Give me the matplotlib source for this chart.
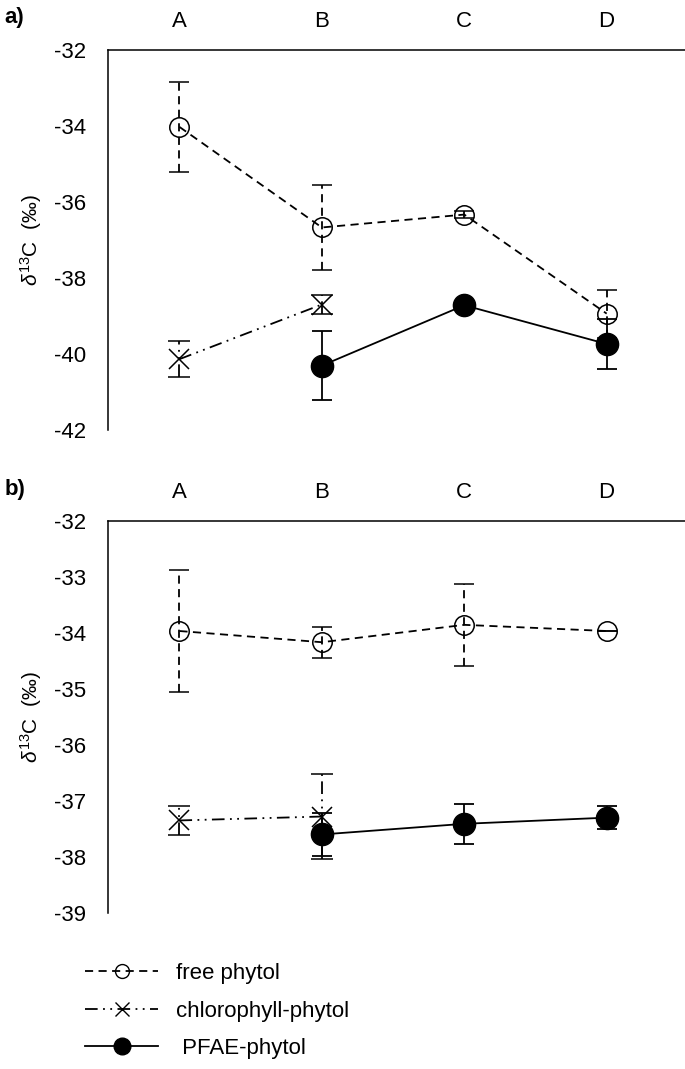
import numpy as np
import matplotlib
matplotlib.use('Agg')
import matplotlib.pyplot as plt
from matplotlib.lines import Line2D

plt.rcParams['font.family'] = ['Liberation Sans', 'DejaVu Sans']
plt.rcParams['mathtext.fontset'] = 'custom'
plt.rcParams['mathtext.rm'] = 'Liberation Sans'
plt.rcParams['mathtext.it'] = 'Liberation Sans:italic'
plt.rcParams['axes.unicode_minus'] = False

sites = ['A', 'B', 'C', 'D']
nan = np.nan

# panel a
free_a = [-34.02, -36.67, -36.33, -38.94]
free_a_err = [1.19, 1.12, 0.1, 0.63]
chl_a = [-40.14, -38.70, nan, nan]
chl_a_err = [0.48, 0.24, nan, nan]
pfae_a = [nan, -40.31, -38.72, -39.74]
pfae_a_err = [nan, 0.9, 0.1, 0.66]

# panel b
free_b = [-33.97, -34.17, -33.86, -33.97]
free_b_err = [1.08, 0.28, 0.73, 0.0]
chl_b = [-37.35, -37.28, nan, nan]
chl_b_err = [0.26, 0.75, nan, nan]
pfae_b = [nan, -37.60, -37.41, -37.30]
pfae_b_err = [nan, 0.38, 0.36, 0.2]

free_ls = (0, (4.5, 3))
chl_ls = (0, (7, 3, 1, 3, 1, 3))
lw = 1.3
fs = 16

fig = plt.figure(figsize=(6.85, 10.69), dpi=100)
ax_a = fig.add_axes([0.158, 0.598, 0.842, 0.355])
ax_b = fig.add_axes([0.158, 0.146, 0.842, 0.367])

x = np.arange(len(sites))


def draw(ax, free, free_err, chl, chl_err, pfae, pfae_err):
    e = ax.errorbar(x, free, yerr=free_err, color='black', lw=lw, ls=free_ls,
                    marker='o', ms=14, mfc='none', mec='black', mew=1.1,
                    capsize=7, capthick=lw, zorder=3)
    e[2][0].set_linestyle(free_ls)
    e = ax.errorbar(x, chl, yerr=chl_err, color='black', lw=lw, ls=chl_ls,
                    marker='x', ms=14, mew=1.1, capsize=8, capthick=lw, zorder=3)
    e[2][0].set_linestyle(chl_ls)
    ax.errorbar(x, pfae, yerr=pfae_err, color='black', lw=lw, ls='-',
                marker='o', ms=16, mfc='black', mec='black',
                capsize=7, capthick=lw, zorder=4)


draw(ax_a, free_a, free_a_err, chl_a, chl_a_err, pfae_a, pfae_a_err)
draw(ax_b, free_b, free_b_err, chl_b, chl_b_err, pfae_b, pfae_b_err)

ax_a.set_ylim(-42, -32)
ax_a.set_yticks(np.arange(-42, -31, 2))
ax_b.set_ylim(-39, -32)
ax_b.set_yticks(np.arange(-39, -31, 1))

for ax in (ax_a, ax_b):
    ax.set_xlim(-0.5, 3.55)
    ax.set_xticks(x)
    ax.set_xticklabels(sites)
    ax.xaxis.tick_top()
    ax.tick_params(axis='x', length=0, pad=13, labelsize=fs)
    ax.tick_params(axis='y', length=0, pad=16, labelsize=fs)
    ax.spines['bottom'].set_visible(False)
    ax.spines['right'].set_visible(False)
    ax.spines['top'].set_linewidth(1.1)
    ax.spines['left'].set_linewidth(1.1)
    ax.set_ylabel(r'$\delta^{13}$C  (‰)', fontsize=15, labelpad=7)
    ax.patch.set_visible(False)

fig.text(0.006, 1 - 17 / 1069, 'a)', fontsize=fs, fontweight='bold', va='center')
fig.text(0.006, 1 - 489 / 1069, 'b)', fontsize=fs, fontweight='bold', va='center')

handles = [
    Line2D([], [], color='black', lw=lw, ls=free_ls, marker='o', ms=10,
           mfc='none', mec='black'),
    Line2D([], [], color='black', lw=lw, ls=chl_ls, marker='x', ms=10),
    Line2D([], [], color='black', lw=lw, ls='-', marker='o', ms=12, mfc='black'),
]
labels = ['free phytol', 'chlorophyll-phytol', ' PFAE-phytol']
fig.legend(handles, labels, loc='upper left', bbox_to_anchor=(0.095, 0.118),
           frameon=False, fontsize=fs, handlelength=3.3, labelspacing=0.75,
           handletextpad=0.8)

fig.savefig('out.png', dpi=100)
